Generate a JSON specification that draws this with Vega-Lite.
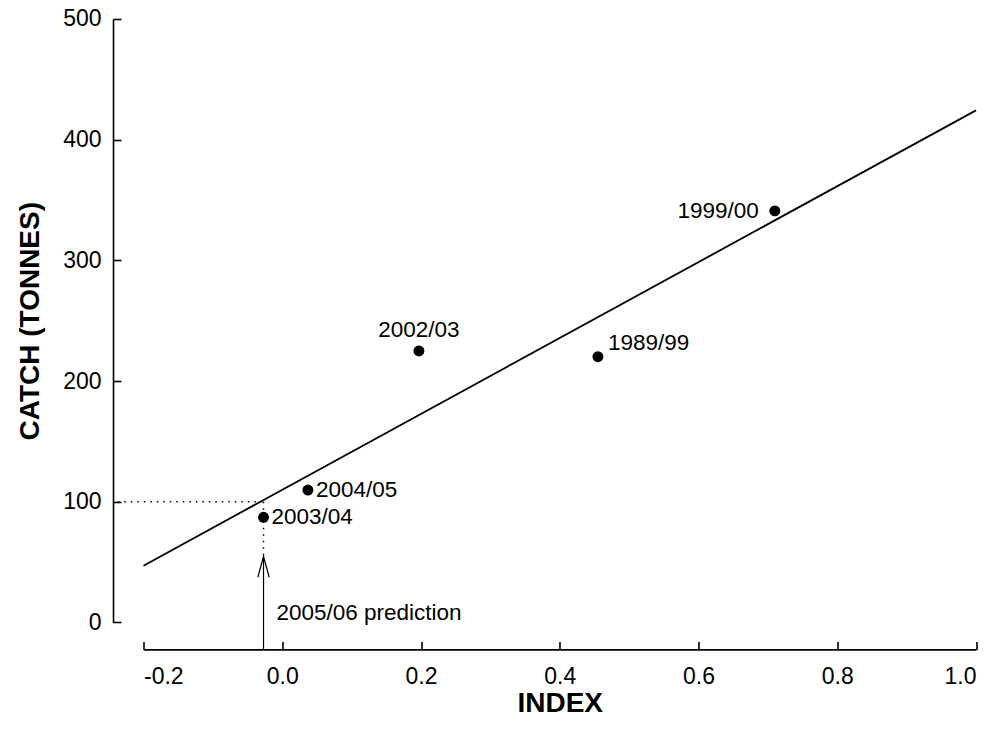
{
  "$schema": "https://vega.github.io/schema/vega-lite/v6.json",
  "autosize": {"type": "none"},
  "padding": {"left": 143.5, "top": 19, "right": 16, "bottom": 118},
  "width": 832.5,
  "height": 603.4,
  "background": "white",
  "config": {
    "view": {"stroke": null},
    "font": "Liberation Sans",
    "axis": {
      "grid": false,
      "domainColor": "black",
      "domainWidth": 1.6,
      "tickColor": "black",
      "tickWidth": 1.6,
      "labelColor": "black",
      "titleColor": "black",
      "labelFont": "Liberation Sans",
      "titleFont": "Liberation Sans",
      "labelFontSize": 23,
      "titleFontSize": 28,
      "titleFontWeight": "bold"
    }
  },
  "datasets": {
    "points": [
      {"index": -0.027, "catch": 87.1, "season": "2003/04"},
      {"index": 0.037, "catch": 109.7, "season": "2004/05"},
      {"index": 0.197, "catch": 224.9, "season": "2002/03"},
      {"index": 0.455, "catch": 220.2, "season": "1989/99"},
      {"index": 0.71, "catch": 341.0, "season": "1999/00"}
    ],
    "fit": [
      {"index": -0.2, "catch": 47.0},
      {"index": 1.0, "catch": 424.3}
    ],
    "hdot": [
      {"index": -0.237, "catch": 100},
      {"index": -0.027, "catch": 100}
    ],
    "vdot": [
      {"index": -0.027, "catch": 100},
      {"index": -0.027, "catch": 54.5}
    ],
    "arrowShaft": [
      {"index": -0.027, "catch": -22, "catch2": 54.5}
    ],
    "arrowHead": [
      {"order": 1, "index": -0.0352, "catch": 37.4},
      {"order": 2, "index": -0.027, "catch": 54.5},
      {"order": 3, "index": -0.0188, "catch": 37.4}
    ],
    "note": [
      {"index": -0.027, "catch": 8, "label": "2005/06 prediction"}
    ]
  },
  "resolve": {"axis": {"x": "independent", "y": "independent"}},
  "layer": [
    {
      "data": {"name": "fit"},
      "mark": {"type": "line", "color": "black", "strokeWidth": 1.8},
      "encoding": {
        "x": {
          "field": "index", "type": "quantitative",
          "scale": {"domain": [-0.2, 1.0], "nice": false, "zero": false},
          "axis": {
            "title": "INDEX", "orient": "bottom", "offset": 27,
            "values": [-0.2, 0, 0.2, 0.4, 0.6, 0.8, 1.0],
            "format": ".1f",
            "labelExpr": "replace(datum.label, '\u2212', '-')",
            "ticks": false, "domain": false,
            "labelPadding": 16,
            "titleY": 54, "titleBaseline": "middle"
          }
        },
        "y": {
          "field": "catch", "type": "quantitative",
          "scale": {"domain": [0, 500], "nice": false, "zero": false},
          "axis": {
            "title": "CATCH (TONNES)", "orient": "left", "offset": 30.5,
            "values": [0, 100, 200, 300, 400, 500],
            "ticks": false, "domain": false,
            "labelPadding": 12,
            "titleX": -83, "titleBaseline": "middle"
          }
        }
      }
    },
    {
      "data": {"name": "hdot"},
      "mark": {"type": "line", "color": "black", "strokeWidth": 1.5, "strokeDash": [1.5, 5]},
      "encoding": {
        "x": {
          "field": "index", "type": "quantitative",
          "scale": {"domain": [-0.2, 1.0], "nice": false, "zero": false},
          "axis": {
            "title": null, "orient": "top", "offset": -630.4,
            "values": [-0.2, 0, 0.2, 0.4, 0.6, 0.8, 1.0],
            "labels": false, "tickSize": 8
          }
        },
        "y": {
          "field": "catch", "type": "quantitative",
          "scale": {"domain": [0, 500], "nice": false, "zero": false},
          "axis": {
            "title": null, "orient": "right", "offset": -863,
            "values": [0, 100, 200, 300, 400, 500],
            "labels": false, "tickSize": 8
          }
        }
      }
    },
    {
      "data": {"name": "vdot"},
      "mark": {"type": "line", "color": "black", "strokeWidth": 1.5, "strokeDash": [1.5, 5]},
      "encoding": {
        "x": {"field": "index", "type": "quantitative", "axis": null},
        "y": {"field": "catch", "type": "quantitative", "axis": null}
      }
    },
    {
      "data": {"name": "arrowShaft"},
      "mark": {"type": "rule", "color": "black", "strokeWidth": 1.2},
      "encoding": {
        "x": {"field": "index", "type": "quantitative", "axis": null},
        "y": {"field": "catch", "type": "quantitative", "axis": null},
        "y2": {"field": "catch2"}
      }
    },
    {
      "data": {"name": "arrowHead"},
      "mark": {"type": "line", "color": "black", "strokeWidth": 1.2},
      "encoding": {
        "x": {"field": "index", "type": "quantitative", "axis": null},
        "y": {"field": "catch", "type": "quantitative", "axis": null},
        "order": {"field": "order"}
      }
    },
    {
      "data": {"name": "points"},
      "mark": {"type": "point", "filled": true, "color": "black", "opacity": 1, "size": 120},
      "encoding": {
        "x": {"field": "index", "type": "quantitative", "axis": null},
        "y": {"field": "catch", "type": "quantitative", "axis": null}
      }
    },
    {
      "data": {"name": "points"},
      "transform": [{"filter": "datum.season == '2003/04' || datum.season == '2004/05'"}],
      "mark": {"type": "text", "align": "left", "baseline": "middle", "dx": 8, "fontSize": 22.5, "color": "black"},
      "encoding": {
        "x": {"field": "index", "type": "quantitative", "axis": null},
        "y": {"field": "catch", "type": "quantitative", "axis": null},
        "text": {"field": "season"}
      }
    },
    {
      "data": {"name": "points"},
      "transform": [{"filter": "datum.season == '2002/03'"}],
      "mark": {"type": "text", "align": "center", "baseline": "alphabetic", "dy": -14, "fontSize": 22.5, "color": "black"},
      "encoding": {
        "x": {"field": "index", "type": "quantitative", "axis": null},
        "y": {"field": "catch", "type": "quantitative", "axis": null},
        "text": {"field": "season"}
      }
    },
    {
      "data": {"name": "points"},
      "transform": [{"filter": "datum.season == '1989/99'"}],
      "mark": {"type": "text", "align": "left", "baseline": "middle", "dx": 10, "dy": -14, "fontSize": 22.5, "color": "black"},
      "encoding": {
        "x": {"field": "index", "type": "quantitative", "axis": null},
        "y": {"field": "catch", "type": "quantitative", "axis": null},
        "text": {"field": "season"}
      }
    },
    {
      "data": {"name": "points"},
      "transform": [{"filter": "datum.season == '1999/00'"}],
      "mark": {"type": "text", "align": "right", "baseline": "middle", "dx": -16, "fontSize": 22.5, "color": "black"},
      "encoding": {
        "x": {"field": "index", "type": "quantitative", "axis": null},
        "y": {"field": "catch", "type": "quantitative", "axis": null},
        "text": {"field": "season"}
      }
    },
    {
      "data": {"name": "note"},
      "mark": {"type": "text", "align": "left", "baseline": "middle", "dx": 13, "fontSize": 22.5, "color": "black"},
      "encoding": {
        "x": {"field": "index", "type": "quantitative", "axis": null},
        "y": {"field": "catch", "type": "quantitative", "axis": null},
        "text": {"field": "label"}
      }
    }
  ]
}
